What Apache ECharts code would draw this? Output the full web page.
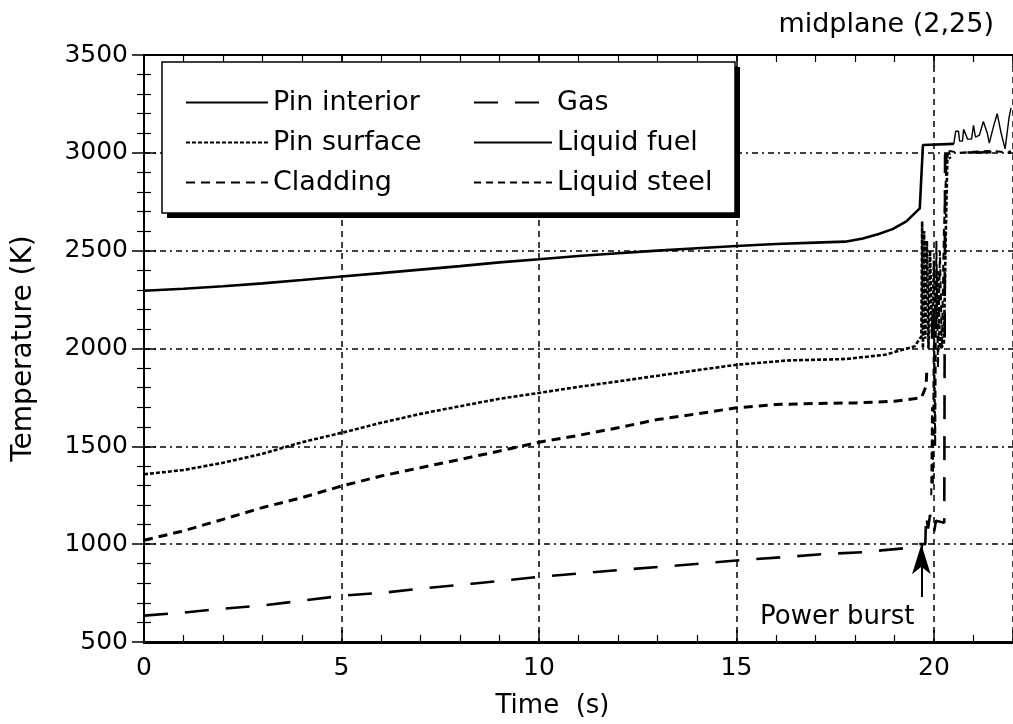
<!DOCTYPE html>
<html style="height: 100%">
<head>
    <meta charset="utf-8">
</head>
<body style="height: 100%; margin: 0; background: #fff">
<div id="main" style="width: 1013px; height: 724px;"></div>
<script type="text/javascript" src="https://cdn.jsdelivr.net/npm/echarts@6/dist/echarts.min.js"></script>
<script type="text/javascript">

    // time (s) and temperature (K) for every curve
    var pinInteriorT = [0, 1, 2, 3, 4, 5, 6, 7, 8, 9, 10, 11, 12, 13, 14, 15, 16, 17, 17.75, 18.2, 18.6, 18.95, 19.3, 19.64, 19.72, 20.5];
    var pinInteriorK = [2295, 2305, 2318, 2333, 2350, 2368, 2385, 2403, 2421, 2440, 2456, 2473, 2487, 2500, 2512, 2524, 2534, 2541, 2546, 2562, 2585, 2610, 2650, 2716, 3040, 3046];

    var pinSurfaceT = [0, 1, 2, 3, 4, 5, 6, 7, 8, 9, 10, 11, 12, 13.5, 15, 16.3, 17.75, 18.76, 19.51, 19.68, 19.7, 19.72, 19.75, 19.78, 19.82, 19.86, 19.9, 19.95, 20.0, 20.05, 20.1, 20.15, 20.25, 20.3, 20.34, 20.42];
    var pinSurfaceK = [1357, 1379, 1416, 1462, 1521, 1569, 1620, 1666, 1705, 1743, 1773, 1804, 1832, 1875, 1917, 1939, 1946, 1968, 2011, 2062, 2650, 2000, 2600, 2050, 2550, 2000, 2500, 2050, 2450, 2100, 2400, 2000, 2020, 2600, 2990, 2970];

    var claddingT = [0, 1, 2, 3, 4, 5, 6, 7, 8, 9, 10, 11, 12, 13, 14, 15, 16, 17, 18, 19, 19.68, 19.8, 19.82];
    var claddingK = [1020, 1068, 1127, 1187, 1238, 1297, 1348, 1391, 1433, 1476, 1521, 1556, 1595, 1637, 1666, 1697, 1714, 1719, 1722, 1730, 1748, 1807, 1900];

    var gasT = [0, 1, 1.7, 3, 4, 5, 6.2, 7.2, 8.3, 9.3, 10.1, 11.1, 12.1, 13.2, 14.2, 15.2, 16.2, 17.2, 18.2, 19.3, 19.64, 19.78, 19.8, 19.85, 19.9, 20.0, 20.05, 20.26, 20.28, 20.45, 21.95];
    var gasK = [635, 650, 665, 687, 711, 736, 755, 777, 798, 818, 835, 852, 869, 886, 903, 920, 934, 949, 959, 980, 1000, 1000, 1150, 1080, 1150, 1060, 1120, 1110, 2990, 3000, 3005];

    var liquidFuelT = [20.5, 20.55, 20.62, 20.65, 20.72, 20.75, 20.85, 20.95, 21.0, 21.05, 21.15, 21.25, 21.35, 21.4, 21.5, 21.6, 21.7, 21.8, 21.9, 21.95];
    var liquidFuelK = [3045, 3110, 3110, 3060, 3060, 3120, 3070, 3070, 3140, 3080, 3090, 3160, 3100, 3050, 3130, 3200, 3100, 3020, 3180, 3230];

    var liquidSteelT = [19.93, 19.95, 19.97, 20.0, 20.03, 20.06, 20.1, 20.15, 20.2, 20.25, 20.32, 20.4, 20.6, 21.0, 21.5, 21.95];
    var liquidSteelK = [1250, 1700, 1300, 2200, 1500, 2550, 1900, 2500, 2000, 2600, 2980, 3010, 3000, 3005, 3010, 3000];

    // power burst arrow and its label
    var burstT = 19.68;
    var burstK = [730, 1000];
    var burstLabelAt = [17.55, 624];

    var xTicks = [0, 22, 5];
    var yTicks = [500, 3500, 500];

    var font = 'DejaVu Sans';

    function zip(ts, ks) {
        var res = [];
        for (var i = 0; i < ts.length; i++) {
            res.push([ts[i], ks[i]]);
        }
        return res;
    }

    function curve(name, data, width, type) {
        return {
            name: name,
            type: 'line',
            data: data,
            symbol: 'none',
            showSymbol: false,
            color: '#000',
            lineStyle: {color: '#000', width: width, type: type},
            animation: false
        };
    }

    var chart = echarts.init(document.getElementById('main'));

    var series = [
        curve('Pin interior', zip(pinInteriorT, pinInteriorK), 2.6, 'solid'),
        curve('Pin surface', zip(pinSurfaceT, pinSurfaceK), 2.6, [4, 2]),
        curve('Cladding', zip(claddingT, claddingK), 3, [9, 6]),
        curve('Gas', zip(gasT, gasK), 2.6, [24, 17]),
        curve('Liquid fuel', zip(liquidFuelT, liquidFuelK), 1.4, 'solid'),
        curve('Liquid steel', zip(liquidSteelT, liquidSteelK), 2, [7, 5])
    ];

    series[3].markLine = {
        silent: true,
        symbol: ['none', 'arrow'],
        symbolSize: [14, 30],
        label: {show: false},
        lineStyle: {color: '#000', width: 2, type: 'solid'},
        itemStyle: {color: '#000'},
        data: [[{coord: [burstT, burstK[0]]}, {coord: [burstT, burstK[1]]}]]
    };
    series[3].markPoint = {
        silent: true,
        symbol: 'circle',
        symbolSize: 1,
        itemStyle: {color: 'rgba(0,0,0,0)'},
        label: {show: true, position: 'inside', formatter: 'Power burst', color: '#000', fontSize: 26, fontFamily: font},
        data: [{coord: burstLabelAt}]
    };

    var legendText = {color: '#000', fontSize: 27, fontFamily: font};

    var option = {
        backgroundColor: '#fff',
        animation: false,
        title: {
            text: 'midplane (2,25)',
            right: 14,
            top: 6,
            textStyle: {color: '#000', fontSize: 27, fontWeight: 'normal', fontFamily: font}
        },
        grid: {left: 144, right: -6, top: 55, bottom: 82},
        graphic: [
            {type: 'rect', shape: {x: 167, y: 67, width: 573, height: 151}, style: {fill: '#000'}, z: 10},
            {type: 'rect', shape: {x: 162, y: 62, width: 573, height: 151}, style: {fill: '#fff', stroke: '#000', lineWidth: 1.5}, z: 11}
        ],
        legend: [
            {
                data: ['Pin interior', 'Pin surface', 'Cladding'],
                orient: 'vertical', left: 180, top: 84,
                itemWidth: 82, itemHeight: 20, itemGap: 13,
                itemStyle: {opacity: 0},
                textStyle: legendText, z: 12
            },
            {
                data: ['Gas', 'Liquid fuel', 'Liquid steel'],
                orient: 'vertical', left: 468, top: 84,
                itemWidth: 78, itemHeight: 20, itemGap: 13,
                itemStyle: {opacity: 0},
                textStyle: legendText, z: 12
            }
        ],
        xAxis: [
            {
                type: 'value', position: 'bottom',
                min: xTicks[0], max: xTicks[1], interval: xTicks[2],
                name: 'Time  (s)', nameLocation: 'middle', nameGap: 51,
                nameTextStyle: {color: '#000', fontSize: 26, fontFamily: font, padding: [0, 52, 0, 0]},
                axisLine: {lineStyle: {color: '#000', width: 3}},
                axisTick: {inside: true, length: 12, lineStyle: {color: '#000', width: 1.5}},
                minorTick: {show: true, splitNumber: 5, length: 7, lineStyle: {color: '#000', width: 1.2}},
                splitLine: {show: true, lineStyle: {color: '#000', width: 1.5, type: [6, 5]}},
                axisLabel: {color: '#000', fontSize: 25, fontFamily: font, margin: 14, showMaxLabel: false}
            },
            {
                type: 'value', position: 'top',
                min: xTicks[0], max: xTicks[1], interval: xTicks[2],
                axisLine: {lineStyle: {color: '#000', width: 2}},
                axisTick: {inside: true, length: 12, lineStyle: {color: '#000', width: 1.5}},
                minorTick: {show: true, splitNumber: 5, length: 7, lineStyle: {color: '#000', width: 1.2}},
                splitLine: {show: false},
                axisLabel: {show: false}
            }
        ],
        yAxis: [
            {
                type: 'value', position: 'left',
                min: yTicks[0], max: yTicks[1], interval: yTicks[2],
                name: 'Temperature (K)', nameLocation: 'middle', nameGap: 106, nameRotate: 90,
                nameTextStyle: {color: '#000', fontSize: 28, fontFamily: font},
                axisLine: {lineStyle: {color: '#000', width: 2}},
                axisTick: {inside: true, length: 12, lineStyle: {color: '#000', width: 1.5}},
                minorTick: {show: true, splitNumber: 5, length: 7, lineStyle: {color: '#000', width: 1.2}},
                splitLine: {show: true, lineStyle: {color: '#000', width: 1.5, type: [6, 4, 2, 4]}},
                axisLabel: {color: '#000', fontSize: 25, fontFamily: font, margin: 16,
                    formatter: function (v) { return String(v); }}
            },
            {
                type: 'value', position: 'right',
                min: yTicks[0], max: yTicks[1], interval: yTicks[2],
                axisLine: {lineStyle: {color: '#000', width: 2}},
                axisTick: {inside: true, length: 12, lineStyle: {color: '#000', width: 1.5}},
                minorTick: {show: true, splitNumber: 5, length: 7, lineStyle: {color: '#000', width: 1.2}},
                splitLine: {show: false},
                axisLabel: {show: false}
            }
        ],
        series: series
    };

    chart.setOption(option, true);

</script>
</body>
</html>
